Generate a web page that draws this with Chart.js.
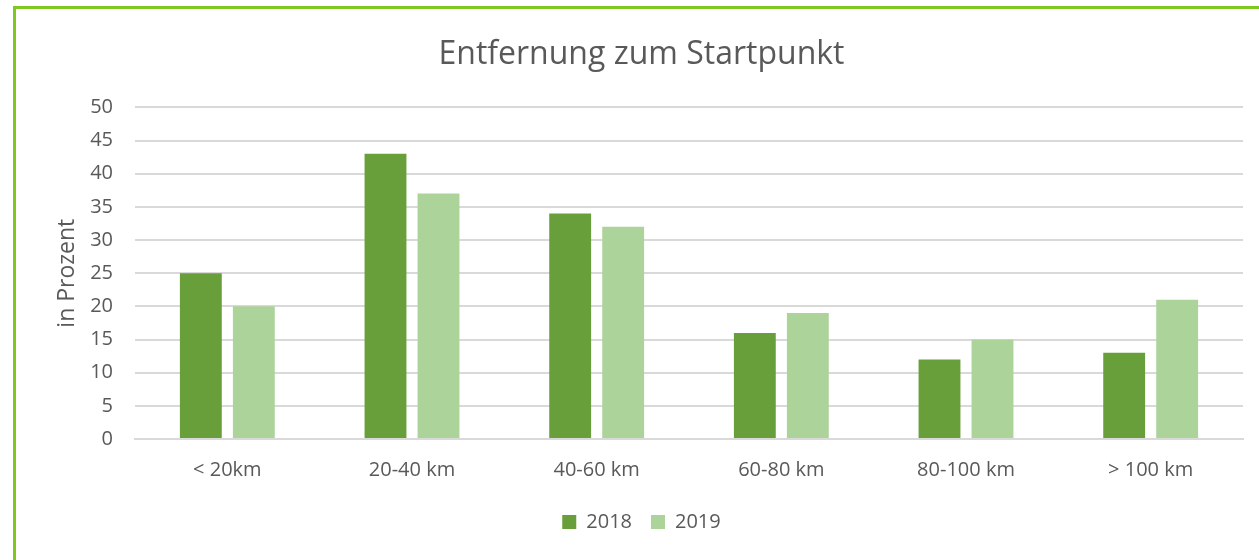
<!DOCTYPE html>
<html>
<head>
<meta charset="utf-8">
<script src="https://cdn.jsdelivr.net/npm/chart.js@4.4.0/dist/chart.umd.min.js"></script>
<style>
  body { margin: 0; background: #fff; overflow: hidden; }
  #wrap { position: relative; width: 1259px; height: 560px; }
  #frame { position: absolute; left: 13px; top: 6px; width: 1300px; height: 600px;
           border: 3px solid #7ec820; box-sizing: border-box; }
  canvas { position: absolute; left: 0; top: 0; }
</style>
</head>
<body>
<div id="wrap">
  <div id="frame"></div>
  <canvas id="myChart" width="1259" height="560"></canvas>
</div>
<script>
const labels = ['< 20km', '20-40 km', '40-60 km', '60-80 km', '80-100 km', '> 100 km'];
const values2018 = [25, 43, 34, 16, 12, 13];
const values2019 = [20, 37, 32, 19, 15, 21];
const yTicks = [0, 5, 10, 15, 20, 25, 30, 35, 40, 45, 50];

const font = "'Open Sans', 'Liberation Sans', sans-serif";
const textColor = '#595959';

const data = {
    labels: labels,
    datasets: [{
        label: '2018',
        backgroundColor: '#689f3b',
        data: values2018,
    }, {
        label: '2019',
        backgroundColor: '#acd39a',
        data: values2019,
    }]
};

const config = {
    type: 'bar',
    data: data,
    options: {
        responsive: false,
        animation: false,
        layout: { padding: { left: 40, right: 16, top: 20, bottom: 18 } },
        datasets: {
            bar: { categoryPercentage: 0.574, barPercentage: 0.79 }
        },
        plugins: {
            title: {
                display: true,
                text: 'Entfernung zum Startpunkt',
                color: textColor,
                font: { family: font, size: 32, weight: 'normal' },
                padding: { top: 16, bottom: 33 }
            },
            legend: {
                position: 'bottom',
                labels: {
                    color: textColor,
                    font: { family: font, size: 20 },
                    boxWidth: 14,
                    boxHeight: 14,
                    padding: 19
                }
            },
            tooltip: { enabled: false }
        },
        scales: {
            x: {
                grid: { display: false },
                border: { color: '#d9d9d9', width: 2 },
                ticks: { color: textColor, font: { family: font, size: 20 }, padding: 11 }
            },
            y: {
                min: 0,
                max: 50,
                afterFit: function (scale) { scale.width = 95; },
                afterBuildTicks: function (scale) { scale.ticks = yTicks.map(v => ({ value: v })); },
                grid: { color: '#d9d9d9', lineWidth: 2, drawTicks: false },
                border: { display: false },
                ticks: { color: textColor, font: { family: font, size: 20 }, padding: 22 },
                title: {
                    display: true,
                    text: 'in Prozent',
                    color: textColor,
                    font: { family: font, size: 23 },
                    padding: { top: 14, bottom: 0 }
                }
            }
        }
    }
};

const myChart = new Chart(
    document.getElementById('myChart'),
    config
);
</script>
</body>
</html>
